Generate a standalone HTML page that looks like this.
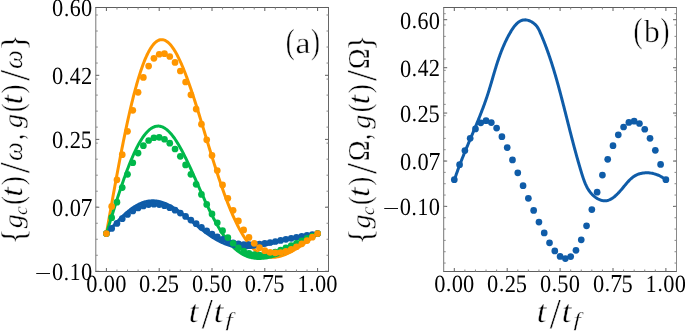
<!DOCTYPE html>
<html><head><meta charset="utf-8"><style>
html,body{margin:0;padding:0;background:#fff;width:685px;height:331px;overflow:hidden}
svg{display:block}
text{font-family:"Liberation Serif",serif;fill:#000;text-rendering:geometricPrecision}
</style></head><body>
<svg width="685" height="331" viewBox="0 0 685 331">
<rect width="685" height="331" fill="#fff"/>
<path d="M95.30 7.5H329.00M95.30 271.5H329.00" stroke="#5e5e5e" stroke-width="1" fill="none"/>
<path d="M95.80 7.5V271.5" stroke="#777" stroke-width="1" fill="none"/>
<path d="M328.50 7.5V271.5" stroke="#666" stroke-width="1" fill="none"/>
<path d="M106.40 271.5v-3.5M106.40 7.5v3.5" stroke="#606060" stroke-width="1"/>
<path d="M159.20 271.5v-3.5M159.20 7.5v3.5" stroke="#606060" stroke-width="1"/>
<path d="M212.00 271.5v-3.5M212.00 7.5v3.5" stroke="#606060" stroke-width="1"/>
<path d="M264.80 271.5v-3.5M264.80 7.5v3.5" stroke="#606060" stroke-width="1"/>
<path d="M317.60 271.5v-3.5M317.60 7.5v3.5" stroke="#606060" stroke-width="1"/>
<path d="M116.96 271.5v-2M116.96 7.5v2" stroke="#8a8a8a" stroke-width="1"/>
<path d="M127.52 271.5v-2M127.52 7.5v2" stroke="#8a8a8a" stroke-width="1"/>
<path d="M138.08 271.5v-2M138.08 7.5v2" stroke="#8a8a8a" stroke-width="1"/>
<path d="M148.64 271.5v-2M148.64 7.5v2" stroke="#8a8a8a" stroke-width="1"/>
<path d="M169.76 271.5v-2M169.76 7.5v2" stroke="#8a8a8a" stroke-width="1"/>
<path d="M180.32 271.5v-2M180.32 7.5v2" stroke="#8a8a8a" stroke-width="1"/>
<path d="M190.88 271.5v-2M190.88 7.5v2" stroke="#8a8a8a" stroke-width="1"/>
<path d="M201.44 271.5v-2M201.44 7.5v2" stroke="#8a8a8a" stroke-width="1"/>
<path d="M222.56 271.5v-2M222.56 7.5v2" stroke="#8a8a8a" stroke-width="1"/>
<path d="M233.12 271.5v-2M233.12 7.5v2" stroke="#8a8a8a" stroke-width="1"/>
<path d="M243.68 271.5v-2M243.68 7.5v2" stroke="#8a8a8a" stroke-width="1"/>
<path d="M254.24 271.5v-2M254.24 7.5v2" stroke="#8a8a8a" stroke-width="1"/>
<path d="M275.36 271.5v-2M275.36 7.5v2" stroke="#8a8a8a" stroke-width="1"/>
<path d="M285.92 271.5v-2M285.92 7.5v2" stroke="#8a8a8a" stroke-width="1"/>
<path d="M296.48 271.5v-2M296.48 7.5v2" stroke="#8a8a8a" stroke-width="1"/>
<path d="M307.04 271.5v-2M307.04 7.5v2" stroke="#8a8a8a" stroke-width="1"/>
<path d="M95.8 271.30h3.5M328.5 271.30h-3.5" stroke="#606060" stroke-width="1"/>
<path d="M95.8 207.23h3.5M328.5 207.23h-3.5" stroke="#606060" stroke-width="1"/>
<path d="M95.8 139.39h3.5M328.5 139.39h-3.5" stroke="#606060" stroke-width="1"/>
<path d="M95.8 75.31h3.5M328.5 75.31h-3.5" stroke="#606060" stroke-width="1"/>
<path d="M95.8 7.47h3.5M328.5 7.47h-3.5" stroke="#606060" stroke-width="1"/>
<path d="M95.8 255.28h2M328.5 255.28h-2" stroke="#8a8a8a" stroke-width="1"/>
<path d="M95.8 239.26h2M328.5 239.26h-2" stroke="#8a8a8a" stroke-width="1"/>
<path d="M95.8 223.25h2M328.5 223.25h-2" stroke="#8a8a8a" stroke-width="1"/>
<path d="M95.8 207.23h2M328.5 207.23h-2" stroke="#8a8a8a" stroke-width="1"/>
<path d="M95.8 191.21h2M328.5 191.21h-2" stroke="#8a8a8a" stroke-width="1"/>
<path d="M95.8 175.19h2M328.5 175.19h-2" stroke="#8a8a8a" stroke-width="1"/>
<path d="M95.8 159.17h2M328.5 159.17h-2" stroke="#8a8a8a" stroke-width="1"/>
<path d="M95.8 143.15h2M328.5 143.15h-2" stroke="#8a8a8a" stroke-width="1"/>
<path d="M95.8 127.14h2M328.5 127.14h-2" stroke="#8a8a8a" stroke-width="1"/>
<path d="M95.8 111.12h2M328.5 111.12h-2" stroke="#8a8a8a" stroke-width="1"/>
<path d="M95.8 95.10h2M328.5 95.10h-2" stroke="#8a8a8a" stroke-width="1"/>
<path d="M95.8 79.08h2M328.5 79.08h-2" stroke="#8a8a8a" stroke-width="1"/>
<path d="M95.8 63.06h2M328.5 63.06h-2" stroke="#8a8a8a" stroke-width="1"/>
<path d="M95.8 47.04h2M328.5 47.04h-2" stroke="#8a8a8a" stroke-width="1"/>
<path d="M95.8 31.03h2M328.5 31.03h-2" stroke="#8a8a8a" stroke-width="1"/>
<path d="M95.8 15.01h2M328.5 15.01h-2" stroke="#8a8a8a" stroke-width="1"/>
<path d="M443.20 7.5H677.00M443.20 271.5H677.00" stroke="#5e5e5e" stroke-width="1" fill="none"/>
<path d="M443.70 7.5V271.5" stroke="#777" stroke-width="1" fill="none"/>
<path d="M676.50 7.5V271.5" stroke="#888" stroke-width="1" fill="none"/>
<path d="M454.30 271.5v-3.5M454.30 7.5v3.5" stroke="#606060" stroke-width="1"/>
<path d="M507.20 271.5v-3.5M507.20 7.5v3.5" stroke="#606060" stroke-width="1"/>
<path d="M560.10 271.5v-3.5M560.10 7.5v3.5" stroke="#606060" stroke-width="1"/>
<path d="M613.00 271.5v-3.5M613.00 7.5v3.5" stroke="#606060" stroke-width="1"/>
<path d="M665.90 271.5v-3.5M665.90 7.5v3.5" stroke="#606060" stroke-width="1"/>
<path d="M464.88 271.5v-2M464.88 7.5v2" stroke="#8a8a8a" stroke-width="1"/>
<path d="M475.46 271.5v-2M475.46 7.5v2" stroke="#8a8a8a" stroke-width="1"/>
<path d="M486.04 271.5v-2M486.04 7.5v2" stroke="#8a8a8a" stroke-width="1"/>
<path d="M496.62 271.5v-2M496.62 7.5v2" stroke="#8a8a8a" stroke-width="1"/>
<path d="M517.78 271.5v-2M517.78 7.5v2" stroke="#8a8a8a" stroke-width="1"/>
<path d="M528.36 271.5v-2M528.36 7.5v2" stroke="#8a8a8a" stroke-width="1"/>
<path d="M538.94 271.5v-2M538.94 7.5v2" stroke="#8a8a8a" stroke-width="1"/>
<path d="M549.52 271.5v-2M549.52 7.5v2" stroke="#8a8a8a" stroke-width="1"/>
<path d="M570.68 271.5v-2M570.68 7.5v2" stroke="#8a8a8a" stroke-width="1"/>
<path d="M581.26 271.5v-2M581.26 7.5v2" stroke="#8a8a8a" stroke-width="1"/>
<path d="M591.84 271.5v-2M591.84 7.5v2" stroke="#8a8a8a" stroke-width="1"/>
<path d="M602.42 271.5v-2M602.42 7.5v2" stroke="#8a8a8a" stroke-width="1"/>
<path d="M623.58 271.5v-2M623.58 7.5v2" stroke="#8a8a8a" stroke-width="1"/>
<path d="M634.16 271.5v-2M634.16 7.5v2" stroke="#8a8a8a" stroke-width="1"/>
<path d="M644.74 271.5v-2M644.74 7.5v2" stroke="#8a8a8a" stroke-width="1"/>
<path d="M655.32 271.5v-2M655.32 7.5v2" stroke="#8a8a8a" stroke-width="1"/>
<path d="M443.7 206.39h3.5M676.5 206.39h-3.5" stroke="#606060" stroke-width="1"/>
<path d="M443.7 161.05h3.5M676.5 161.05h-3.5" stroke="#606060" stroke-width="1"/>
<path d="M443.7 113.05h3.5M676.5 113.05h-3.5" stroke="#606060" stroke-width="1"/>
<path d="M443.7 67.71h3.5M676.5 67.71h-3.5" stroke="#606060" stroke-width="1"/>
<path d="M443.7 19.70h3.5M676.5 19.70h-3.5" stroke="#606060" stroke-width="1"/>
<path d="M443.7 263.06h2M676.5 263.06h-2" stroke="#8a8a8a" stroke-width="1"/>
<path d="M443.7 251.73h2M676.5 251.73h-2" stroke="#8a8a8a" stroke-width="1"/>
<path d="M443.7 240.39h2M676.5 240.39h-2" stroke="#8a8a8a" stroke-width="1"/>
<path d="M443.7 229.06h2M676.5 229.06h-2" stroke="#8a8a8a" stroke-width="1"/>
<path d="M443.7 217.72h2M676.5 217.72h-2" stroke="#8a8a8a" stroke-width="1"/>
<path d="M443.7 206.39h2M676.5 206.39h-2" stroke="#8a8a8a" stroke-width="1"/>
<path d="M443.7 195.06h2M676.5 195.06h-2" stroke="#8a8a8a" stroke-width="1"/>
<path d="M443.7 183.72h2M676.5 183.72h-2" stroke="#8a8a8a" stroke-width="1"/>
<path d="M443.7 172.39h2M676.5 172.39h-2" stroke="#8a8a8a" stroke-width="1"/>
<path d="M443.7 161.05h2M676.5 161.05h-2" stroke="#8a8a8a" stroke-width="1"/>
<path d="M443.7 149.72h2M676.5 149.72h-2" stroke="#8a8a8a" stroke-width="1"/>
<path d="M443.7 138.38h2M676.5 138.38h-2" stroke="#8a8a8a" stroke-width="1"/>
<path d="M443.7 127.05h2M676.5 127.05h-2" stroke="#8a8a8a" stroke-width="1"/>
<path d="M443.7 115.71h2M676.5 115.71h-2" stroke="#8a8a8a" stroke-width="1"/>
<path d="M443.7 104.38h2M676.5 104.38h-2" stroke="#8a8a8a" stroke-width="1"/>
<path d="M443.7 93.04h2M676.5 93.04h-2" stroke="#8a8a8a" stroke-width="1"/>
<path d="M443.7 81.71h2M676.5 81.71h-2" stroke="#8a8a8a" stroke-width="1"/>
<path d="M443.7 70.37h2M676.5 70.37h-2" stroke="#8a8a8a" stroke-width="1"/>
<path d="M443.7 59.04h2M676.5 59.04h-2" stroke="#8a8a8a" stroke-width="1"/>
<path d="M443.7 47.70h2M676.5 47.70h-2" stroke="#8a8a8a" stroke-width="1"/>
<path d="M443.7 36.37h2M676.5 36.37h-2" stroke="#8a8a8a" stroke-width="1"/>
<path d="M443.7 25.03h2M676.5 25.03h-2" stroke="#8a8a8a" stroke-width="1"/>
<path d="M443.7 13.70h2M676.5 13.70h-2" stroke="#8a8a8a" stroke-width="1"/>
<polyline points="106.40,233.61 107.11,229.61 107.81,225.60 108.52,221.60 109.23,217.61 109.93,213.62 110.64,209.65 111.34,205.68 112.05,201.73 112.76,197.79 113.46,193.86 114.17,189.96 114.88,186.07 115.58,182.21 116.29,178.36 117.00,174.55 117.70,170.76 118.41,166.99 119.11,163.26 119.82,159.56 120.53,155.89 121.23,152.26 121.94,148.66 122.65,145.10 123.35,141.58 124.06,138.11 124.77,134.67 125.47,131.28 126.18,127.93 126.88,124.63 127.59,121.37 128.30,118.17 129.00,115.02 129.71,111.92 130.42,108.87 131.12,105.87 131.83,102.93 132.54,100.05 133.24,97.23 133.95,94.46 134.65,91.76 135.36,89.11 136.07,86.53 136.77,84.01 137.48,81.55 138.19,79.16 138.89,76.84 139.60,74.58 140.31,72.38 141.01,70.26 141.72,68.20 142.42,66.21 143.13,64.29 143.84,62.44 144.54,60.66 145.25,58.95 145.96,57.31 146.66,55.75 147.37,54.26 148.07,52.83 148.78,51.48 149.49,50.21 150.19,49.00 150.90,47.87 151.61,46.82 152.31,45.83 153.02,44.92 153.73,44.08 154.43,43.32 155.14,42.62 155.84,42.00 156.55,41.46 157.26,40.98 157.96,40.58 158.67,40.25 159.38,39.98 160.08,39.79 160.79,39.68 161.50,39.63 162.20,39.65 162.91,39.73 163.61,39.89 164.32,40.12 165.03,40.41 165.73,40.76 166.44,41.19 167.15,41.68 167.85,42.23 168.56,42.84 169.27,43.52 169.97,44.26 170.68,45.06 171.38,45.92 172.09,46.84 172.80,47.82 173.50,48.85 174.21,49.94 174.92,51.09 175.62,52.29 176.33,53.54 177.04,54.84 177.74,56.19 178.45,57.59 179.15,59.04 179.86,60.54 180.57,62.08 181.27,63.67 181.98,65.30 182.69,66.97 183.39,68.68 184.10,70.44 184.81,72.23 185.51,74.05 186.22,75.92 186.92,77.81 187.63,79.74 188.34,81.70 189.04,83.70 189.75,85.72 190.46,87.77 191.16,89.84 191.87,91.94 192.58,94.06 193.28,96.21 193.99,98.38 194.69,100.56 195.40,102.77 196.11,104.99 196.81,107.23 197.52,109.48 198.23,111.75 198.93,114.02 199.64,116.31 200.35,118.61 201.05,120.91 201.76,123.22 202.46,125.54 203.17,127.86 203.88,130.18 204.58,132.51 205.29,134.83 206.00,137.16 206.70,139.48 207.41,141.80 208.12,144.12 208.82,146.43 209.53,148.74 210.23,151.03 210.94,153.32 211.65,155.60 212.35,157.87 213.06,160.13 213.77,162.37 214.47,164.61 215.18,166.82 215.88,169.02 216.59,171.21 217.30,173.38 218.00,175.53 218.71,177.66 219.42,179.77 220.12,181.87 220.83,183.94 221.54,185.99 222.24,188.01 222.95,190.02 223.65,192.00 224.36,193.95 225.07,195.88 225.77,197.79 226.48,199.67 227.19,201.52 227.89,203.34 228.60,205.14 229.31,206.91 230.01,208.65 230.72,210.36 231.42,212.04 232.13,213.69 232.84,215.31 233.54,216.90 234.25,218.46 234.96,219.99 235.66,221.49 236.37,222.96 237.08,224.39 237.78,225.79 238.49,227.17 239.19,228.50 239.90,229.81 240.61,231.09 241.31,232.33 242.02,233.54 242.73,234.72 243.43,235.86 244.14,236.98 244.85,238.06 245.55,239.11 246.26,240.12 246.96,241.11 247.67,242.06 248.38,242.98 249.08,243.87 249.79,244.73 250.50,245.56 251.20,246.36 251.91,247.12 252.62,247.86 253.32,248.56 254.03,249.23 254.73,249.88 255.44,250.49 256.15,251.08 256.85,251.64 257.56,252.16 258.27,252.66 258.97,253.14 259.68,253.58 260.39,254.00 261.09,254.39 261.80,254.75 262.50,255.09 263.21,255.40 263.92,255.69 264.62,255.95 265.33,256.19 266.04,256.40 266.74,256.59 267.45,256.75 268.16,256.90 268.86,257.02 269.57,257.11 270.27,257.19 270.98,257.25 271.69,257.28 272.39,257.30 273.10,257.29 273.81,257.27 274.51,257.22 275.22,257.16 275.93,257.08 276.63,256.98 277.34,256.87 278.04,256.73 278.75,256.58 279.46,256.42 280.16,256.24 280.87,256.04 281.58,255.83 282.28,255.61 282.99,255.37 283.69,255.12 284.40,254.85 285.11,254.57 285.81,254.28 286.52,253.98 287.23,253.67 287.93,253.34 288.64,253.00 289.35,252.66 290.05,252.30 290.76,251.93 291.46,251.56 292.17,251.17 292.88,250.78 293.58,250.37 294.29,249.96 295.00,249.54 295.70,249.12 296.41,248.68 297.12,248.24 297.82,247.80 298.53,247.34 299.23,246.88 299.94,246.42 300.65,245.95 301.35,245.47 302.06,244.99 302.77,244.50 303.47,244.01 304.18,243.52 304.89,243.02 305.59,242.52 306.30,242.01 307.00,241.50 307.71,240.99 308.42,240.47 309.12,239.95 309.83,239.43 310.54,238.91 311.24,238.39 311.95,237.86 312.66,237.33 313.36,236.80 314.07,236.27 314.77,235.74 315.48,235.21 316.19,234.68 316.89,234.14 317.60,233.61" fill="none" stroke="#ff9600" stroke-width="3.0" stroke-linejoin="round" stroke-linecap="butt"/>
<polyline points="106.40,233.61 107.11,231.30 107.81,229.00 108.52,226.69 109.23,224.39 109.93,222.10 110.64,219.81 111.34,217.52 112.05,215.24 112.76,212.97 113.46,210.71 114.17,208.46 114.88,206.23 115.58,204.00 116.29,201.79 117.00,199.59 117.70,197.41 118.41,195.24 119.11,193.09 119.82,190.96 120.53,188.85 121.23,186.76 121.94,184.69 122.65,182.64 123.35,180.62 124.06,178.62 124.77,176.65 125.47,174.70 126.18,172.78 126.88,170.88 127.59,169.02 128.30,167.18 129.00,165.38 129.71,163.61 130.42,161.87 131.12,160.16 131.83,158.48 132.54,156.85 133.24,155.24 133.95,153.67 134.65,152.14 135.36,150.65 136.07,149.20 136.77,147.78 137.48,146.41 138.19,145.07 138.89,143.78 139.60,142.53 140.31,141.32 141.01,140.15 141.72,139.03 142.42,137.95 143.13,136.92 143.84,135.93 144.54,134.99 145.25,134.09 145.96,133.24 146.66,132.43 147.37,131.68 148.07,130.97 148.78,130.30 149.49,129.69 150.19,129.12 150.90,128.60 151.61,128.13 152.31,127.71 153.02,127.34 153.73,127.02 154.43,126.74 155.14,126.51 155.84,126.34 156.55,126.21 157.26,126.13 157.96,126.10 158.67,126.11 159.38,126.18 160.08,126.29 160.79,126.45 161.50,126.66 162.20,126.91 162.91,127.21 163.61,127.56 164.32,127.96 165.03,128.39 165.73,128.88 166.44,129.41 167.15,129.98 167.85,130.59 168.56,131.25 169.27,131.95 169.97,132.69 170.68,133.47 171.38,134.30 172.09,135.16 172.80,136.06 173.50,136.99 174.21,137.96 174.92,138.97 175.62,140.02 176.33,141.09 177.04,142.21 177.74,143.35 178.45,144.52 179.15,145.72 179.86,146.96 180.57,148.22 181.27,149.51 181.98,150.82 182.69,152.16 183.39,153.52 184.10,154.90 184.81,156.31 185.51,157.74 186.22,159.18 186.92,160.65 187.63,162.13 188.34,163.62 189.04,165.13 189.75,166.66 190.46,168.19 191.16,169.74 191.87,171.30 192.58,172.87 193.28,174.44 193.99,176.02 194.69,177.61 195.40,179.20 196.11,180.79 196.81,182.39 197.52,183.98 198.23,185.58 198.93,187.18 199.64,188.77 200.35,190.36 201.05,191.94 201.76,193.52 202.46,195.10 203.17,196.66 203.88,198.22 204.58,199.77 205.29,201.31 206.00,202.84 206.70,204.35 207.41,205.85 208.12,207.34 208.82,208.82 209.53,210.28 210.23,211.72 210.94,213.15 211.65,214.56 212.35,215.95 213.06,217.33 213.77,218.68 214.47,220.02 215.18,221.33 215.88,222.63 216.59,223.90 217.30,225.15 218.00,226.38 218.71,227.59 219.42,228.78 220.12,229.94 220.83,231.08 221.54,232.19 222.24,233.28 222.95,234.35 223.65,235.39 224.36,236.41 225.07,237.40 225.77,238.37 226.48,239.31 227.19,240.23 227.89,241.13 228.60,241.99 229.31,242.84 230.01,243.66 230.72,244.45 231.42,245.22 232.13,245.96 232.84,246.68 233.54,247.38 234.25,248.05 234.96,248.70 235.66,249.32 236.37,249.92 237.08,250.50 237.78,251.05 238.49,251.58 239.19,252.09 239.90,252.57 240.61,253.04 241.31,253.48 242.02,253.90 242.73,254.30 243.43,254.67 244.14,255.03 244.85,255.37 245.55,255.69 246.26,255.99 246.96,256.26 247.67,256.52 248.38,256.77 249.08,256.99 249.79,257.20 250.50,257.39 251.20,257.56 251.91,257.72 252.62,257.86 253.32,257.98 254.03,258.09 254.73,258.18 255.44,258.26 256.15,258.33 256.85,258.38 257.56,258.41 258.27,258.44 258.97,258.45 259.68,258.44 260.39,258.43 261.09,258.40 261.80,258.37 262.50,258.32 263.21,258.26 263.92,258.18 264.62,258.10 265.33,258.01 266.04,257.91 266.74,257.79 267.45,257.67 268.16,257.54 268.86,257.40 269.57,257.25 270.27,257.09 270.98,256.92 271.69,256.75 272.39,256.57 273.10,256.37 273.81,256.18 274.51,255.97 275.22,255.76 275.93,255.53 276.63,255.31 277.34,255.07 278.04,254.83 278.75,254.58 279.46,254.32 280.16,254.06 280.87,253.79 281.58,253.52 282.28,253.24 282.99,252.95 283.69,252.66 284.40,252.36 285.11,252.06 285.81,251.75 286.52,251.43 287.23,251.11 287.93,250.78 288.64,250.45 289.35,250.11 290.05,249.77 290.76,249.43 291.46,249.07 292.17,248.72 292.88,248.36 293.58,247.99 294.29,247.62 295.00,247.25 295.70,246.87 296.41,246.48 297.12,246.10 297.82,245.71 298.53,245.31 299.23,244.91 299.94,244.51 300.65,244.10 301.35,243.69 302.06,243.28 302.77,242.86 303.47,242.44 304.18,242.02 304.89,241.59 305.59,241.17 306.30,240.74 307.00,240.30 307.71,239.87 308.42,239.43 309.12,238.99 309.83,238.55 310.54,238.10 311.24,237.66 311.95,237.21 312.66,236.77 313.36,236.32 314.07,235.87 314.77,235.42 315.48,234.97 316.19,234.51 316.89,234.06 317.60,233.61" fill="none" stroke="#00b84a" stroke-width="3.0" stroke-linejoin="round" stroke-linecap="butt"/>
<polyline points="106.40,233.61 107.11,232.81 107.81,232.01 108.52,231.22 109.23,230.42 109.93,229.63 110.64,228.84 111.34,228.05 112.05,227.27 112.76,226.49 113.46,225.71 114.17,224.94 114.88,224.18 115.58,223.42 116.29,222.66 117.00,221.91 117.70,221.17 118.41,220.44 119.11,219.72 119.82,219.00 120.53,218.29 121.23,217.60 121.94,216.91 122.65,216.23 123.35,215.56 124.06,214.90 124.77,214.26 125.47,213.63 126.18,213.00 126.88,212.39 127.59,211.80 128.30,211.21 129.00,210.64 129.71,210.09 130.42,209.54 131.12,209.02 131.83,208.50 132.54,208.00 133.24,207.52 133.95,207.05 134.65,206.60 135.36,206.16 136.07,205.74 136.77,205.33 137.48,204.95 138.19,204.58 138.89,204.22 139.60,203.88 140.31,203.56 141.01,203.26 141.72,202.97 142.42,202.71 143.13,202.46 143.84,202.22 144.54,202.01 145.25,201.81 145.96,201.63 146.66,201.47 147.37,201.33 148.07,201.20 148.78,201.09 149.49,201.00 150.19,200.93 150.90,200.88 151.61,200.84 152.31,200.82 153.02,200.82 153.73,200.84 154.43,200.87 155.14,200.93 155.84,200.99 156.55,201.08 157.26,201.18 157.96,201.30 158.67,201.44 159.38,201.59 160.08,201.76 160.79,201.95 161.50,202.15 162.20,202.37 162.91,202.60 163.61,202.85 164.32,203.11 165.03,203.39 165.73,203.68 166.44,203.98 167.15,204.30 167.85,204.64 168.56,204.98 169.27,205.34 169.97,205.71 170.68,206.10 171.38,206.49 172.09,206.90 172.80,207.32 173.50,207.75 174.21,208.19 174.92,208.64 175.62,209.10 176.33,209.57 177.04,210.05 177.74,210.54 178.45,211.04 179.15,211.54 179.86,212.05 180.57,212.57 181.27,213.10 181.98,213.63 182.69,214.17 183.39,214.71 184.10,215.26 184.81,215.82 185.51,216.37 186.22,216.94 186.92,217.50 187.63,218.07 188.34,218.64 189.04,219.22 189.75,219.80 190.46,220.37 191.16,220.95 191.87,221.53 192.58,222.12 193.28,222.70 193.99,223.28 194.69,223.86 195.40,224.44 196.11,225.02 196.81,225.59 197.52,226.17 198.23,226.74 198.93,227.31 199.64,227.87 200.35,228.43 201.05,228.99 201.76,229.55 202.46,230.10 203.17,230.64 203.88,231.18 204.58,231.72 205.29,232.25 206.00,232.77 206.70,233.29 207.41,233.80 208.12,234.30 208.82,234.80 209.53,235.29 210.23,235.77 210.94,236.24 211.65,236.71 212.35,237.17 213.06,237.62 213.77,238.06 214.47,238.49 215.18,238.91 215.88,239.33 216.59,239.73 217.30,240.13 218.00,240.52 218.71,240.89 219.42,241.26 220.12,241.62 220.83,241.96 221.54,242.30 222.24,242.63 222.95,242.94 223.65,243.25 224.36,243.55 225.07,243.83 225.77,244.11 226.48,244.37 227.19,244.63 227.89,244.87 228.60,245.10 229.31,245.33 230.01,245.54 230.72,245.74 231.42,245.93 232.13,246.11 232.84,246.28 233.54,246.44 234.25,246.59 234.96,246.73 235.66,246.86 236.37,246.98 237.08,247.09 237.78,247.19 238.49,247.28 239.19,247.37 239.90,247.44 240.61,247.50 241.31,247.55 242.02,247.59 242.73,247.63 243.43,247.65 244.14,247.67 244.85,247.68 245.55,247.68 246.26,247.67 246.96,247.66 247.67,247.63 248.38,247.60 249.08,247.56 249.79,247.52 250.50,247.46 251.20,247.40 251.91,247.33 252.62,247.26 253.32,247.18 254.03,247.09 254.73,247.00 255.44,246.90 256.15,246.80 256.85,246.69 257.56,246.58 258.27,246.46 258.97,246.33 259.68,246.20 260.39,246.07 261.09,245.93 261.80,245.79 262.50,245.65 263.21,245.50 263.92,245.35 264.62,245.19 265.33,245.03 266.04,244.87 266.74,244.71 267.45,244.54 268.16,244.38 268.86,244.21 269.57,244.04 270.27,243.86 270.98,243.69 271.69,243.51 272.39,243.33 273.10,243.15 273.81,242.97 274.51,242.79 275.22,242.61 275.93,242.43 276.63,242.25 277.34,242.07 278.04,241.89 278.75,241.71 279.46,241.53 280.16,241.35 280.87,241.17 281.58,240.99 282.28,240.81 282.99,240.63 283.69,240.45 284.40,240.28 285.11,240.10 285.81,239.93 286.52,239.76 287.23,239.58 287.93,239.42 288.64,239.25 289.35,239.08 290.05,238.91 290.76,238.75 291.46,238.59 292.17,238.43 292.88,238.27 293.58,238.11 294.29,237.96 295.00,237.80 295.70,237.65 296.41,237.50 297.12,237.35 297.82,237.20 298.53,237.06 299.23,236.91 299.94,236.77 300.65,236.63 301.35,236.49 302.06,236.35 302.77,236.22 303.47,236.08 304.18,235.95 304.89,235.82 305.59,235.69 306.30,235.56 307.00,235.43 307.71,235.30 308.42,235.18 309.12,235.05 309.83,234.93 310.54,234.81 311.24,234.69 311.95,234.56 312.66,234.44 313.36,234.32 314.07,234.20 314.77,234.08 315.48,233.97 316.19,233.85 316.89,233.73 317.60,233.61" fill="none" stroke="#0f5ca8" stroke-width="3.0" stroke-linejoin="round" stroke-linecap="butt"/>
<circle cx="106.40" cy="233.61" r="3.35" fill="#0f5ca8"/><circle cx="111.68" cy="228.42" r="3.35" fill="#0f5ca8"/><circle cx="116.96" cy="223.40" r="3.35" fill="#0f5ca8"/><circle cx="122.24" cy="218.71" r="3.35" fill="#0f5ca8"/><circle cx="127.52" cy="214.49" r="3.35" fill="#0f5ca8"/><circle cx="132.80" cy="210.89" r="3.35" fill="#0f5ca8"/><circle cx="138.08" cy="207.99" r="3.35" fill="#0f5ca8"/><circle cx="143.36" cy="205.88" r="3.35" fill="#0f5ca8"/><circle cx="148.64" cy="204.61" r="3.35" fill="#0f5ca8"/><circle cx="153.92" cy="204.18" r="3.35" fill="#0f5ca8"/><circle cx="159.20" cy="204.58" r="3.35" fill="#0f5ca8"/><circle cx="164.48" cy="205.76" r="3.35" fill="#0f5ca8"/><circle cx="169.76" cy="207.64" r="3.35" fill="#0f5ca8"/><circle cx="175.04" cy="210.13" r="3.35" fill="#0f5ca8"/><circle cx="180.32" cy="213.12" r="3.35" fill="#0f5ca8"/><circle cx="185.60" cy="216.46" r="3.35" fill="#0f5ca8"/><circle cx="190.88" cy="220.03" r="3.35" fill="#0f5ca8"/><circle cx="196.16" cy="223.70" r="3.35" fill="#0f5ca8"/><circle cx="201.44" cy="227.32" r="3.35" fill="#0f5ca8"/><circle cx="206.72" cy="230.79" r="3.35" fill="#0f5ca8"/><circle cx="212.00" cy="234.00" r="3.35" fill="#0f5ca8"/><circle cx="217.28" cy="236.86" r="3.35" fill="#0f5ca8"/><circle cx="222.56" cy="239.31" r="3.35" fill="#0f5ca8"/><circle cx="227.84" cy="241.31" r="3.35" fill="#0f5ca8"/><circle cx="233.12" cy="242.83" r="3.35" fill="#0f5ca8"/><circle cx="238.40" cy="243.89" r="3.35" fill="#0f5ca8"/><circle cx="243.68" cy="244.50" r="3.35" fill="#0f5ca8"/><circle cx="248.96" cy="244.70" r="3.35" fill="#0f5ca8"/><circle cx="254.24" cy="244.53" r="3.35" fill="#0f5ca8"/><circle cx="259.52" cy="244.07" r="3.35" fill="#0f5ca8"/><circle cx="264.80" cy="243.37" r="3.35" fill="#0f5ca8"/><circle cx="270.08" cy="242.49" r="3.35" fill="#0f5ca8"/><circle cx="275.36" cy="241.50" r="3.35" fill="#0f5ca8"/><circle cx="280.64" cy="240.44" r="3.35" fill="#0f5ca8"/><circle cx="285.92" cy="239.37" r="3.35" fill="#0f5ca8"/><circle cx="291.20" cy="238.32" r="3.35" fill="#0f5ca8"/><circle cx="296.48" cy="237.29" r="3.35" fill="#0f5ca8"/><circle cx="301.76" cy="236.32" r="3.35" fill="#0f5ca8"/><circle cx="307.04" cy="235.39" r="3.35" fill="#0f5ca8"/><circle cx="312.32" cy="234.49" r="3.35" fill="#0f5ca8"/><circle cx="317.60" cy="233.61" r="3.35" fill="#0f5ca8"/>
<circle cx="106.40" cy="233.61" r="3.35" fill="#00b84a"/><circle cx="111.68" cy="217.67" r="3.35" fill="#00b84a"/><circle cx="116.96" cy="202.19" r="3.35" fill="#00b84a"/><circle cx="122.24" cy="187.60" r="3.35" fill="#00b84a"/><circle cx="127.52" cy="174.33" r="3.35" fill="#00b84a"/><circle cx="132.80" cy="162.73" r="3.35" fill="#00b84a"/><circle cx="138.08" cy="153.08" r="3.35" fill="#00b84a"/><circle cx="143.36" cy="145.63" r="3.35" fill="#00b84a"/><circle cx="148.64" cy="140.49" r="3.35" fill="#00b84a"/><circle cx="153.92" cy="137.75" r="3.35" fill="#00b84a"/><circle cx="159.20" cy="137.36" r="3.35" fill="#00b84a"/><circle cx="164.48" cy="139.23" r="3.35" fill="#00b84a"/><circle cx="169.76" cy="143.19" r="3.35" fill="#00b84a"/><circle cx="175.04" cy="148.98" r="3.35" fill="#00b84a"/><circle cx="180.32" cy="156.32" r="3.35" fill="#00b84a"/><circle cx="185.60" cy="164.89" r="3.35" fill="#00b84a"/><circle cx="190.88" cy="174.33" r="3.35" fill="#00b84a"/><circle cx="196.16" cy="184.29" r="3.35" fill="#00b84a"/><circle cx="201.44" cy="194.42" r="3.35" fill="#00b84a"/><circle cx="206.72" cy="204.39" r="3.35" fill="#00b84a"/><circle cx="212.00" cy="213.92" r="3.35" fill="#00b84a"/><circle cx="217.28" cy="222.74" r="3.35" fill="#00b84a"/><circle cx="222.56" cy="230.66" r="3.35" fill="#00b84a"/><circle cx="227.84" cy="237.53" r="3.35" fill="#00b84a"/><circle cx="233.12" cy="243.26" r="3.35" fill="#00b84a"/><circle cx="238.40" cy="247.81" r="3.35" fill="#00b84a"/><circle cx="243.68" cy="251.19" r="3.35" fill="#00b84a"/><circle cx="248.96" cy="253.46" r="3.35" fill="#00b84a"/><circle cx="254.24" cy="254.71" r="3.35" fill="#00b84a"/><circle cx="259.52" cy="255.06" r="3.35" fill="#00b84a"/><circle cx="264.80" cy="254.63" r="3.35" fill="#00b84a"/><circle cx="270.08" cy="253.57" r="3.35" fill="#00b84a"/><circle cx="275.36" cy="252.02" r="3.35" fill="#00b84a"/><circle cx="280.64" cy="250.11" r="3.35" fill="#00b84a"/><circle cx="285.92" cy="247.95" r="3.35" fill="#00b84a"/><circle cx="291.20" cy="245.65" r="3.35" fill="#00b84a"/><circle cx="296.48" cy="243.26" r="3.35" fill="#00b84a"/><circle cx="301.76" cy="240.84" r="3.35" fill="#00b84a"/><circle cx="307.04" cy="238.42" r="3.35" fill="#00b84a"/><circle cx="312.32" cy="236.01" r="3.35" fill="#00b84a"/><circle cx="317.60" cy="233.61" r="3.35" fill="#00b84a"/>
<circle cx="106.40" cy="233.61" r="3.35" fill="#ff9600"/><circle cx="111.68" cy="206.41" r="3.35" fill="#ff9600"/><circle cx="116.96" cy="179.87" r="3.35" fill="#ff9600"/><circle cx="122.24" cy="154.63" r="3.35" fill="#ff9600"/><circle cx="127.52" cy="131.28" r="3.35" fill="#ff9600"/><circle cx="132.80" cy="110.36" r="3.35" fill="#ff9600"/><circle cx="138.08" cy="92.30" r="3.35" fill="#ff9600"/><circle cx="143.36" cy="77.47" r="3.35" fill="#ff9600"/><circle cx="148.64" cy="66.11" r="3.35" fill="#ff9600"/><circle cx="153.92" cy="58.35" r="3.35" fill="#ff9600"/><circle cx="159.20" cy="54.24" r="3.35" fill="#ff9600"/><circle cx="164.48" cy="53.68" r="3.35" fill="#ff9600"/><circle cx="169.76" cy="56.48" r="3.35" fill="#ff9600"/><circle cx="175.04" cy="62.38" r="3.35" fill="#ff9600"/><circle cx="180.32" cy="71.02" r="3.35" fill="#ff9600"/><circle cx="185.60" cy="81.99" r="3.35" fill="#ff9600"/><circle cx="190.88" cy="94.84" r="3.35" fill="#ff9600"/><circle cx="196.16" cy="109.07" r="3.35" fill="#ff9600"/><circle cx="201.44" cy="124.22" r="3.35" fill="#ff9600"/><circle cx="206.72" cy="139.81" r="3.35" fill="#ff9600"/><circle cx="212.00" cy="155.38" r="3.35" fill="#ff9600"/><circle cx="217.28" cy="170.54" r="3.35" fill="#ff9600"/><circle cx="222.56" cy="184.93" r="3.35" fill="#ff9600"/><circle cx="227.84" cy="198.26" r="3.35" fill="#ff9600"/><circle cx="233.12" cy="210.31" r="3.35" fill="#ff9600"/><circle cx="238.40" cy="220.91" r="3.35" fill="#ff9600"/><circle cx="243.68" cy="229.96" r="3.35" fill="#ff9600"/><circle cx="248.96" cy="237.43" r="3.35" fill="#ff9600"/><circle cx="254.24" cy="243.33" r="3.35" fill="#ff9600"/><circle cx="259.52" cy="247.72" r="3.35" fill="#ff9600"/><circle cx="264.80" cy="250.70" r="3.35" fill="#ff9600"/><circle cx="270.08" cy="252.39" r="3.35" fill="#ff9600"/><circle cx="275.36" cy="252.95" r="3.35" fill="#ff9600"/><circle cx="280.64" cy="252.51" r="3.35" fill="#ff9600"/><circle cx="285.92" cy="251.24" r="3.35" fill="#ff9600"/><circle cx="291.20" cy="249.27" r="3.35" fill="#ff9600"/><circle cx="296.48" cy="246.76" r="3.35" fill="#ff9600"/><circle cx="301.76" cy="243.82" r="3.35" fill="#ff9600"/><circle cx="307.04" cy="240.58" r="3.35" fill="#ff9600"/><circle cx="312.32" cy="237.14" r="3.35" fill="#ff9600"/><circle cx="317.60" cy="233.61" r="3.35" fill="#ff9600"/>
<polyline points="454.49,179.73 454.84,178.66 455.19,177.58 455.55,176.51 455.91,175.43 456.28,174.36 456.66,173.29 457.04,172.21 457.42,171.14 457.80,170.07 458.19,169.00 458.59,167.93 458.99,166.86 459.39,165.79 459.79,164.72 460.20,163.65 460.61,162.59 461.03,161.52 461.45,160.45 461.87,159.38 462.29,158.32 462.72,157.25 463.15,156.19 463.58,155.12 464.01,154.05 464.45,152.99 464.88,151.92 465.32,150.86 465.76,149.79 466.20,148.73 466.65,147.67 467.09,146.60 467.54,145.54 467.99,144.47 468.43,143.41 468.88,142.35 469.33,141.28 469.78,140.22 470.23,139.15 470.68,138.09 471.13,137.03 471.58,135.96 472.04,134.90 472.49,133.83 472.94,132.77 473.39,131.70 473.83,130.64 474.28,129.57 474.73,128.51 475.18,127.44 475.62,126.38 476.07,125.31 476.51,124.24 476.95,123.18 477.39,122.11 477.83,121.04 478.26,119.98 478.69,118.91 479.13,117.84 479.55,116.77 479.98,115.70 480.40,114.63 480.83,113.56 481.24,112.49 481.66,111.42 482.07,110.34 482.48,109.27 482.89,108.20 483.29,107.12 483.69,106.05 484.08,104.97 484.47,103.90 484.86,102.82 485.24,101.74 485.62,100.67 486.00,99.59 486.37,98.51 486.73,97.43 487.09,96.35 487.45,95.26 487.80,94.18 488.15,93.10 488.49,92.01 488.83,90.93 489.16,89.84 489.49,88.76 489.82,87.67 490.15,86.58 490.47,85.49 490.80,84.41 491.12,83.32 491.44,82.23 491.76,81.14 492.07,80.05 492.39,78.96 492.71,77.87 493.03,76.78 493.35,75.69 493.66,74.60 493.99,73.51 494.31,72.43 494.63,71.34 494.96,70.25 495.29,69.16 495.62,68.07 495.95,66.98 496.29,65.90 496.63,64.81 496.98,63.72 497.33,62.64 497.68,61.55 498.04,60.47 498.41,59.39 498.78,58.30 499.16,57.22 499.54,56.14 499.93,55.06 500.33,53.98 500.73,52.90 501.14,51.82 501.56,50.75 501.99,49.67 502.42,48.60 502.87,47.53 503.32,46.46 503.79,45.39 504.26,44.32 504.74,43.25 505.23,42.19 505.74,41.12 506.25,40.06 506.78,39.00 507.31,37.94 507.86,36.88 508.43,35.83 509.00,34.77 509.59,33.72 510.19,32.67 510.80,31.63 511.43,30.59 512.07,29.57 512.73,28.58 513.41,27.61 514.10,26.67 514.82,25.76 515.55,24.91 516.31,24.10 517.08,23.34 517.88,22.64 518.70,22.01 519.54,21.45 520.41,20.96 521.31,20.56 522.23,20.24 523.18,20.01 524.15,19.89 525.16,19.86 526.19,19.94 527.24,20.13 528.31,20.41 529.38,20.78 530.44,21.24 531.48,21.78 532.50,22.40 533.48,23.09 534.42,23.84 535.30,24.65 536.13,25.51 536.88,26.42 537.55,27.37 538.16,28.36 538.72,29.38 539.23,30.41 539.72,31.46 540.19,32.52 540.65,33.59 541.11,34.65 541.56,35.71 542.01,36.78 542.45,37.85 542.89,38.92 543.33,39.99 543.76,41.07 544.19,42.14 544.61,43.22 545.03,44.30 545.44,45.37 545.85,46.46 546.26,47.54 546.66,48.62 547.05,49.71 547.45,50.79 547.84,51.88 548.22,52.97 548.61,54.06 548.99,55.15 549.36,56.24 549.73,57.33 550.10,58.42 550.47,59.52 550.83,60.61 551.19,61.71 551.54,62.81 551.89,63.91 552.24,65.01 552.59,66.10 552.93,67.20 553.27,68.31 553.61,69.41 553.95,70.51 554.28,71.61 554.61,72.71 554.93,73.82 555.26,74.92 555.58,76.03 555.90,77.13 556.22,78.24 556.54,79.34 556.85,80.45 557.16,81.55 557.47,82.66 557.78,83.77 558.09,84.87 558.39,85.98 558.69,87.08 558.99,88.19 559.29,89.30 559.59,90.40 559.89,91.51 560.18,92.62 560.48,93.72 560.77,94.83 561.06,95.93 561.35,97.04 561.64,98.14 561.93,99.25 562.21,100.35 562.50,101.45 562.79,102.56 563.07,103.66 563.35,104.77 563.64,105.87 563.92,106.97 564.20,108.08 564.48,109.18 564.76,110.28 565.04,111.39 565.32,112.49 565.60,113.59 565.88,114.69 566.16,115.80 566.44,116.90 566.72,118.00 567.00,119.11 567.28,120.21 567.56,121.32 567.84,122.42 568.12,123.52 568.40,124.63 568.68,125.73 568.96,126.84 569.24,127.94 569.52,129.05 569.80,130.15 570.09,131.26 570.37,132.36 570.65,133.47 570.94,134.57 571.22,135.68 571.51,136.79 571.79,137.90 572.08,139.00 572.37,140.11 572.66,141.22 572.95,142.33 573.24,143.44 573.54,144.55 573.83,145.66 574.13,146.77 574.43,147.88 574.72,149.00 575.03,150.11 575.33,151.22 575.63,152.34 575.94,153.45 576.24,154.57 576.55,155.68 576.86,156.80 577.17,157.92 577.49,159.03 577.80,160.15 578.12,161.27 578.44,162.39 578.77,163.51 579.09,164.64 579.42,165.76 579.75,166.88 580.08,168.01 580.41,169.13 580.75,170.26 581.09,171.38 581.43,172.51 581.77,173.64 582.12,174.77 582.48,175.89 582.84,177.01 583.22,178.13 583.60,179.24 584.00,180.34 584.41,181.43 584.84,182.51 585.28,183.58 585.75,184.63 586.23,185.67 586.74,186.69 587.27,187.69 587.83,188.67 588.41,189.64 589.03,190.57 589.67,191.49 590.34,192.38 591.05,193.24 591.80,194.07 592.58,194.88 593.40,195.65 594.25,196.39 595.16,197.10 596.10,197.77 597.08,198.39 598.09,198.97 599.12,199.48 600.17,199.93 601.23,200.29 602.29,200.57 603.34,200.75 604.38,200.83 605.41,200.81 606.42,200.70 607.42,200.49 608.41,200.20 609.38,199.84 610.34,199.39 611.29,198.88 612.23,198.31 613.16,197.67 614.07,196.99 614.97,196.25 615.86,195.47 616.73,194.64 617.60,193.79 618.45,192.90 619.30,192.00 620.13,191.07 620.95,190.13 621.76,189.17 622.56,188.22 623.35,187.26 624.13,186.31 624.91,185.37 625.68,184.44 626.46,183.52 627.23,182.62 628.02,181.74 628.81,180.88 629.61,180.06 630.42,179.26 631.25,178.50 632.10,177.78 632.97,177.09 633.86,176.46 634.78,175.87 635.73,175.33 636.70,174.84 637.70,174.41 638.73,174.03 639.78,173.70 640.85,173.42 641.94,173.20 643.04,173.02 644.16,172.89 645.29,172.81 646.42,172.78 647.56,172.80 648.71,172.86 649.86,172.97 651.00,173.13 652.15,173.33 653.29,173.58 654.42,173.87 655.54,174.20 656.64,174.58 657.74,175.00 658.81,175.46 659.87,175.96 660.90,176.50 661.91,177.09 662.90,177.71 663.86,178.37 664.78,179.07 665.67,179.81" fill="none" stroke="#0f5ca8" stroke-width="3.0" stroke-linejoin="round" stroke-linecap="butt"/>
<circle cx="454.30" cy="179.72" r="3.35" fill="#0f5ca8"/><circle cx="459.59" cy="164.65" r="3.35" fill="#0f5ca8"/><circle cx="464.88" cy="150.54" r="3.35" fill="#0f5ca8"/><circle cx="470.17" cy="138.34" r="3.35" fill="#0f5ca8"/><circle cx="475.46" cy="128.89" r="3.35" fill="#0f5ca8"/><circle cx="480.75" cy="122.87" r="3.35" fill="#0f5ca8"/><circle cx="486.04" cy="120.72" r="3.35" fill="#0f5ca8"/><circle cx="491.33" cy="122.54" r="3.35" fill="#0f5ca8"/><circle cx="496.62" cy="128.06" r="3.35" fill="#0f5ca8"/><circle cx="501.91" cy="136.68" r="3.35" fill="#0f5ca8"/><circle cx="507.20" cy="147.59" r="3.35" fill="#0f5ca8"/><circle cx="512.49" cy="159.90" r="3.35" fill="#0f5ca8"/><circle cx="517.78" cy="172.80" r="3.35" fill="#0f5ca8"/><circle cx="523.07" cy="185.71" r="3.35" fill="#0f5ca8"/><circle cx="528.36" cy="198.31" r="3.35" fill="#0f5ca8"/><circle cx="533.65" cy="210.45" r="3.35" fill="#0f5ca8"/><circle cx="538.94" cy="222.06" r="3.35" fill="#0f5ca8"/><circle cx="544.23" cy="232.97" r="3.35" fill="#0f5ca8"/><circle cx="549.52" cy="242.79" r="3.35" fill="#0f5ca8"/><circle cx="554.81" cy="250.89" r="3.35" fill="#0f5ca8"/><circle cx="560.10" cy="256.43" r="3.35" fill="#0f5ca8"/><circle cx="565.39" cy="258.56" r="3.35" fill="#0f5ca8"/><circle cx="570.68" cy="256.61" r="3.35" fill="#0f5ca8"/><circle cx="575.97" cy="250.28" r="3.35" fill="#0f5ca8"/><circle cx="581.26" cy="239.79" r="3.35" fill="#0f5ca8"/><circle cx="586.55" cy="225.84" r="3.35" fill="#0f5ca8"/><circle cx="591.84" cy="209.54" r="3.35" fill="#0f5ca8"/><circle cx="597.13" cy="192.19" r="3.35" fill="#0f5ca8"/><circle cx="602.42" cy="175.07" r="3.35" fill="#0f5ca8"/><circle cx="607.71" cy="159.30" r="3.35" fill="#0f5ca8"/><circle cx="613.00" cy="145.71" r="3.35" fill="#0f5ca8"/><circle cx="618.29" cy="134.83" r="3.35" fill="#0f5ca8"/><circle cx="623.58" cy="127.00" r="3.35" fill="#0f5ca8"/><circle cx="628.87" cy="122.41" r="3.35" fill="#0f5ca8"/><circle cx="634.16" cy="121.20" r="3.35" fill="#0f5ca8"/><circle cx="639.45" cy="123.48" r="3.35" fill="#0f5ca8"/><circle cx="644.74" cy="129.25" r="3.35" fill="#0f5ca8"/><circle cx="650.03" cy="138.34" r="3.35" fill="#0f5ca8"/><circle cx="655.32" cy="150.32" r="3.35" fill="#0f5ca8"/><circle cx="660.61" cy="164.44" r="3.35" fill="#0f5ca8"/><circle cx="665.90" cy="179.72" r="3.35" fill="#0f5ca8"/>
<g opacity="0.999">
<g transform="translate(34.44,280.00)"><text transform="matrix(1.3129 0 0 0.8636 0.40 0.31)" font-size="22.60">−</text>
<text transform="matrix(0.9932 0 0 1.0964 17.58 0.20)" font-size="22.60">0</text>
<text transform="matrix(0.9296 0 0 0.9995 29.37 -0.41)" font-size="22.60">.</text>
<text transform="matrix(0.9489 0 0 1.0849 35.19 -0.09)" font-size="22.60">1</text>
<text transform="matrix(0.9932 0 0 1.0964 46.44 0.20)" font-size="22.60">0</text></g>
<g transform="translate(52.07,215.93)"><text transform="matrix(0.9932 0 0 1.0964 0.03 0.19)" font-size="22.60">0</text>
<text transform="matrix(0.9296 0 0 0.9995 11.81 -0.42)" font-size="22.60">.</text>
<text transform="matrix(0.9932 0 0 1.0964 17.58 0.19)" font-size="22.60">0</text>
<text transform="matrix(1.0579 0 0 1.1459 28.55 0.43)" font-size="22.60">7</text></g>
<g transform="translate(52.07,148.09)"><text transform="matrix(0.9932 0 0 1.0964 0.03 0.20)" font-size="22.60">0</text>
<text transform="matrix(0.9296 0 0 0.9995 11.81 -0.41)" font-size="22.60">.</text>
<text transform="matrix(0.9962 0 0 1.0817 17.69 -0.09)" font-size="22.60">2</text>
<text transform="matrix(0.9914 0 0 1.1134 28.68 0.19)" font-size="22.60">5</text></g>
<g transform="translate(52.07,84.01)"><text transform="matrix(0.9932 0 0 1.0964 0.03 0.20)" font-size="22.60">0</text>
<text transform="matrix(0.9296 0 0 0.9995 11.81 -0.41)" font-size="22.60">.</text>
<text transform="matrix(0.9539 0 0 1.0881 17.76 -0.09)" font-size="22.60">4</text>
<text transform="matrix(0.9962 0 0 1.0817 28.99 -0.09)" font-size="22.60">2</text></g>
<g transform="translate(52.07,16.17)"><text transform="matrix(0.9932 0 0 1.0964 0.03 0.20)" font-size="22.60">0</text>
<text transform="matrix(0.9296 0 0 0.9995 11.81 -0.41)" font-size="22.60">.</text>
<text transform="matrix(0.9713 0 0 1.1012 17.56 0.20)" font-size="22.60">6</text>
<text transform="matrix(0.9932 0 0 1.0964 28.88 0.20)" font-size="22.60">0</text></g>
<g transform="translate(382.24,215.09)"><text transform="matrix(1.3129 0 0 0.8636 0.40 0.31)" font-size="22.60">−</text>
<text transform="matrix(0.9932 0 0 1.0964 17.58 0.20)" font-size="22.60">0</text>
<text transform="matrix(0.9296 0 0 0.9995 29.37 -0.41)" font-size="22.60">.</text>
<text transform="matrix(0.9489 0 0 1.0849 35.19 -0.09)" font-size="22.60">1</text>
<text transform="matrix(0.9932 0 0 1.0964 46.44 0.20)" font-size="22.60">0</text></g>
<g transform="translate(399.87,169.75)"><text transform="matrix(0.9932 0 0 1.0964 0.03 0.19)" font-size="22.60">0</text>
<text transform="matrix(0.9296 0 0 0.9995 11.81 -0.42)" font-size="22.60">.</text>
<text transform="matrix(0.9932 0 0 1.0964 17.58 0.19)" font-size="22.60">0</text>
<text transform="matrix(1.0579 0 0 1.1459 28.55 0.43)" font-size="22.60">7</text></g>
<g transform="translate(399.87,121.75)"><text transform="matrix(0.9932 0 0 1.0964 0.03 0.20)" font-size="22.60">0</text>
<text transform="matrix(0.9296 0 0 0.9995 11.81 -0.41)" font-size="22.60">.</text>
<text transform="matrix(0.9962 0 0 1.0817 17.69 -0.09)" font-size="22.60">2</text>
<text transform="matrix(0.9914 0 0 1.1134 28.68 0.19)" font-size="22.60">5</text></g>
<g transform="translate(399.87,76.41)"><text transform="matrix(0.9932 0 0 1.0964 0.03 0.20)" font-size="22.60">0</text>
<text transform="matrix(0.9296 0 0 0.9995 11.81 -0.41)" font-size="22.60">.</text>
<text transform="matrix(0.9539 0 0 1.0881 17.76 -0.09)" font-size="22.60">4</text>
<text transform="matrix(0.9962 0 0 1.0817 28.99 -0.09)" font-size="22.60">2</text></g>
<g transform="translate(399.87,28.40)"><text transform="matrix(0.9932 0 0 1.0964 0.03 0.20)" font-size="22.60">0</text>
<text transform="matrix(0.9296 0 0 0.9995 11.81 -0.41)" font-size="22.60">.</text>
<text transform="matrix(0.9713 0 0 1.1012 17.56 0.20)" font-size="22.60">6</text>
<text transform="matrix(0.9932 0 0 1.0964 28.88 0.20)" font-size="22.60">0</text></g>
<g transform="translate(86.29,291.80)"><text transform="matrix(0.9932 0 0 1.0964 0.03 0.20)" font-size="22.60">0</text>
<text transform="matrix(0.9296 0 0 0.9995 11.81 -0.41)" font-size="22.60">.</text>
<text transform="matrix(0.9932 0 0 1.0964 17.58 0.20)" font-size="22.60">0</text>
<text transform="matrix(0.9932 0 0 1.0964 28.88 0.20)" font-size="22.60">0</text></g>
<g transform="translate(139.09,291.80)"><text transform="matrix(0.9932 0 0 1.0964 0.03 0.20)" font-size="22.60">0</text>
<text transform="matrix(0.9296 0 0 0.9995 11.81 -0.41)" font-size="22.60">.</text>
<text transform="matrix(0.9962 0 0 1.0817 17.69 -0.09)" font-size="22.60">2</text>
<text transform="matrix(0.9914 0 0 1.1134 28.68 0.19)" font-size="22.60">5</text></g>
<g transform="translate(191.89,291.80)"><text transform="matrix(0.9932 0 0 1.0964 0.03 0.20)" font-size="22.60">0</text>
<text transform="matrix(0.9296 0 0 0.9995 11.81 -0.41)" font-size="22.60">.</text>
<text transform="matrix(0.9914 0 0 1.1134 17.38 0.19)" font-size="22.60">5</text>
<text transform="matrix(0.9932 0 0 1.0964 28.88 0.20)" font-size="22.60">0</text></g>
<g transform="translate(244.69,291.80)"><text transform="matrix(0.9932 0 0 1.0964 0.03 0.19)" font-size="22.60">0</text>
<text transform="matrix(0.9296 0 0 0.9995 11.81 -0.42)" font-size="22.60">.</text>
<text transform="matrix(1.0579 0 0 1.1459 17.25 0.43)" font-size="22.60">7</text>
<text transform="matrix(0.9914 0 0 1.1134 28.68 0.19)" font-size="22.60">5</text></g>
<g transform="translate(297.49,291.80)"><text transform="matrix(0.9489 0 0 1.0849 0.08 -0.09)" font-size="22.60">1</text>
<text transform="matrix(0.9296 0 0 0.9995 11.81 -0.41)" font-size="22.60">.</text>
<text transform="matrix(0.9932 0 0 1.0964 17.58 0.20)" font-size="22.60">0</text>
<text transform="matrix(0.9932 0 0 1.0964 28.88 0.20)" font-size="22.60">0</text></g>
<g transform="translate(434.19,291.80)"><text transform="matrix(0.9932 0 0 1.0964 0.03 0.20)" font-size="22.60">0</text>
<text transform="matrix(0.9296 0 0 0.9995 11.81 -0.41)" font-size="22.60">.</text>
<text transform="matrix(0.9932 0 0 1.0964 17.58 0.20)" font-size="22.60">0</text>
<text transform="matrix(0.9932 0 0 1.0964 28.88 0.20)" font-size="22.60">0</text></g>
<g transform="translate(487.09,291.80)"><text transform="matrix(0.9932 0 0 1.0964 0.03 0.20)" font-size="22.60">0</text>
<text transform="matrix(0.9296 0 0 0.9995 11.81 -0.41)" font-size="22.60">.</text>
<text transform="matrix(0.9962 0 0 1.0817 17.69 -0.09)" font-size="22.60">2</text>
<text transform="matrix(0.9914 0 0 1.1134 28.68 0.19)" font-size="22.60">5</text></g>
<g transform="translate(539.99,291.80)"><text transform="matrix(0.9932 0 0 1.0964 0.03 0.20)" font-size="22.60">0</text>
<text transform="matrix(0.9296 0 0 0.9995 11.81 -0.41)" font-size="22.60">.</text>
<text transform="matrix(0.9914 0 0 1.1134 17.38 0.19)" font-size="22.60">5</text>
<text transform="matrix(0.9932 0 0 1.0964 28.88 0.20)" font-size="22.60">0</text></g>
<g transform="translate(592.89,291.80)"><text transform="matrix(0.9932 0 0 1.0964 0.03 0.19)" font-size="22.60">0</text>
<text transform="matrix(0.9296 0 0 0.9995 11.81 -0.42)" font-size="22.60">.</text>
<text transform="matrix(1.0579 0 0 1.1459 17.25 0.43)" font-size="22.60">7</text>
<text transform="matrix(0.9914 0 0 1.1134 28.68 0.19)" font-size="22.60">5</text></g>
<g transform="translate(645.79,291.80)"><text transform="matrix(0.9489 0 0 1.0849 0.08 -0.09)" font-size="22.60">1</text>
<text transform="matrix(0.9296 0 0 0.9995 11.81 -0.41)" font-size="22.60">.</text>
<text transform="matrix(0.9932 0 0 1.0964 17.58 0.20)" font-size="22.60">0</text>
<text transform="matrix(0.9932 0 0 1.0964 28.88 0.20)" font-size="22.60">0</text></g>
<g transform="translate(22.4,243.4) rotate(-90)"><text transform="matrix(1.2047 0 0 1.2083 -1.13 2.52)" font-size="28.50" stroke="#fff" stroke-width="0.290">{</text>
<text transform="matrix(0.9823 0 0 0.9465 15.03 -0.10)" font-size="28.50" font-style="italic" stroke="#fff" stroke-width="0.363">g</text>
<text transform="matrix(0.6788 0 0 0.6595 28.34 4.69)" font-size="28.50" font-style="italic" stroke="#fff" stroke-width="0.523">c</text>
<text transform="matrix(0.9144 0 0 1.1029 38.70 0.23)" font-size="28.50" stroke="#fff" stroke-width="0.347">(</text>
<text transform="matrix(1.2135 0 0 1.1125 46.65 -0.19)" font-size="28.50" font-style="italic" stroke="#fff" stroke-width="0.301">t</text>
<text transform="matrix(0.9150 0 0 1.1029 58.38 0.23)" font-size="28.50" stroke="#fff" stroke-width="0.347">)</text>
<text transform="matrix(1.3919 0 0 1.4949 70.09 6.51)" font-size="28.50" stroke="#fff" stroke-width="0.242">/</text>
<text transform="matrix(0.9394 0 0 0.9489 82.45 -0.14)" font-size="28.50" font-style="italic" stroke="#fff" stroke-width="0.371">ω</text>
<text transform="matrix(0.8131 0 0 1.1827 103.58 0.14)" font-size="28.50" stroke="#fff" stroke-width="0.351">,</text>
<text transform="matrix(0.9823 0 0 0.9465 115.35 -0.10)" font-size="28.50" font-style="italic" stroke="#fff" stroke-width="0.363">g</text>
<text transform="matrix(0.9144 0 0 1.1029 131.28 0.23)" font-size="28.50" stroke="#fff" stroke-width="0.347">(</text>
<text transform="matrix(1.2135 0 0 1.1125 138.93 -0.19)" font-size="28.50" font-style="italic" stroke="#fff" stroke-width="0.301">t</text>
<text transform="matrix(0.9150 0 0 1.1029 150.26 0.23)" font-size="28.50" stroke="#fff" stroke-width="0.347">)</text>
<text transform="matrix(1.3919 0 0 1.4949 162.57 6.51)" font-size="28.50" stroke="#fff" stroke-width="0.242">/</text>
<text transform="matrix(0.9394 0 0 0.9489 174.43 -0.14)" font-size="28.50" font-style="italic" stroke="#fff" stroke-width="0.371">ω</text>
<text transform="matrix(1.2047 0 0 1.2083 192.92 2.52)" font-size="28.50" stroke="#fff" stroke-width="0.290">}</text></g>
<g transform="translate(369.6,243.6) rotate(-90)"><text transform="matrix(1.2047 0 0 1.2083 -1.13 2.52)" font-size="28.50" stroke="#fff" stroke-width="0.290">{</text>
<text transform="matrix(0.9823 0 0 0.9465 15.03 -0.10)" font-size="28.50" font-style="italic" stroke="#fff" stroke-width="0.363">g</text>
<text transform="matrix(0.6788 0 0 0.6595 28.34 4.69)" font-size="28.50" font-style="italic" stroke="#fff" stroke-width="0.523">c</text>
<text transform="matrix(0.9144 0 0 1.1029 38.70 0.23)" font-size="28.50" stroke="#fff" stroke-width="0.347">(</text>
<text transform="matrix(1.2135 0 0 1.1125 46.65 -0.19)" font-size="28.50" font-style="italic" stroke="#fff" stroke-width="0.301">t</text>
<text transform="matrix(0.9150 0 0 1.1029 58.18 0.23)" font-size="28.50" stroke="#fff" stroke-width="0.347">)</text>
<text transform="matrix(1.3919 0 0 1.4949 69.59 6.51)" font-size="28.50" stroke="#fff" stroke-width="0.242">/</text>
<text transform="matrix(0.9893 0 0 1.0650 82.23 -0.20)" font-size="28.50" stroke="#fff" stroke-width="0.341">Ω</text>
<text transform="matrix(0.8131 0 0 1.1827 103.83 0.14)" font-size="28.50" stroke="#fff" stroke-width="0.351">,</text>
<text transform="matrix(0.9823 0 0 0.9465 114.80 -0.10)" font-size="28.50" font-style="italic" stroke="#fff" stroke-width="0.363">g</text>
<text transform="matrix(0.9144 0 0 1.1029 131.43 0.23)" font-size="28.50" stroke="#fff" stroke-width="0.347">(</text>
<text transform="matrix(1.2135 0 0 1.1125 139.18 -0.19)" font-size="28.50" font-style="italic" stroke="#fff" stroke-width="0.301">t</text>
<text transform="matrix(0.9150 0 0 1.1029 150.51 0.23)" font-size="28.50" stroke="#fff" stroke-width="0.347">)</text>
<text transform="matrix(1.3919 0 0 1.4949 162.52 6.51)" font-size="28.50" stroke="#fff" stroke-width="0.242">/</text>
<text transform="matrix(0.9893 0 0 1.0650 174.36 -0.20)" font-size="28.50" stroke="#fff" stroke-width="0.341">Ω</text>
<text transform="matrix(1.2047 0 0 1.2083 192.72 2.52)" font-size="28.50" stroke="#fff" stroke-width="0.290">}</text></g>
<g transform="translate(189.6,321.7)"><text transform="matrix(1.2135 0 0 1.1125 -0.89 0.01)" font-size="28.50" font-style="italic" stroke="#fff" stroke-width="0.301">t</text>
<text transform="matrix(1.3919 0 0 1.4949 12.08 6.71)" font-size="28.50" stroke="#fff" stroke-width="0.242">/</text>
<text transform="matrix(1.2135 0 0 1.1125 24.14 0.01)" font-size="28.50" font-style="italic" stroke="#fff" stroke-width="0.301">t</text>
<text transform="matrix(0.9138 0 0 0.6949 35.99 4.72)" font-size="28.50" font-style="italic" stroke="#fff" stroke-width="0.435">f</text></g>
<g transform="translate(537.6,321.7)"><text transform="matrix(1.2135 0 0 1.1125 -0.89 0.01)" font-size="28.50" font-style="italic" stroke="#fff" stroke-width="0.301">t</text>
<text transform="matrix(1.3919 0 0 1.4949 12.08 6.71)" font-size="28.50" stroke="#fff" stroke-width="0.242">/</text>
<text transform="matrix(1.2135 0 0 1.1125 24.14 0.01)" font-size="28.50" font-style="italic" stroke="#fff" stroke-width="0.301">t</text>
<text transform="matrix(0.9138 0 0 0.6949 35.99 4.72)" font-size="28.50" font-style="italic" stroke="#fff" stroke-width="0.435">f</text></g>
<g transform="translate(284.0,52.7)"><text transform="matrix(0.9144 0 0 1.1929 1.68 0.48)" font-size="29.40" stroke="#fff" stroke-width="0.380">(</text>
<text transform="matrix(1.1471 0 0 1.0377 11.40 0.06)" font-size="29.40" stroke="#fff" stroke-width="0.366">a</text>
<text transform="matrix(0.9150 0 0 1.1929 26.89 0.48)" font-size="29.40" stroke="#fff" stroke-width="0.380">)</text></g>
<g transform="translate(631.9,41.75)"><text transform="matrix(0.9144 0 0 1.1929 1.68 0.48)" font-size="29.40" stroke="#fff" stroke-width="0.380">(</text>
<text transform="matrix(1.0740 0 0 1.0840 12.18 0.05)" font-size="29.40" stroke="#fff" stroke-width="0.371">b</text>
<text transform="matrix(0.9150 0 0 1.1929 28.52 0.48)" font-size="29.40" stroke="#fff" stroke-width="0.380">)</text></g>
</g>
</svg></body></html>
